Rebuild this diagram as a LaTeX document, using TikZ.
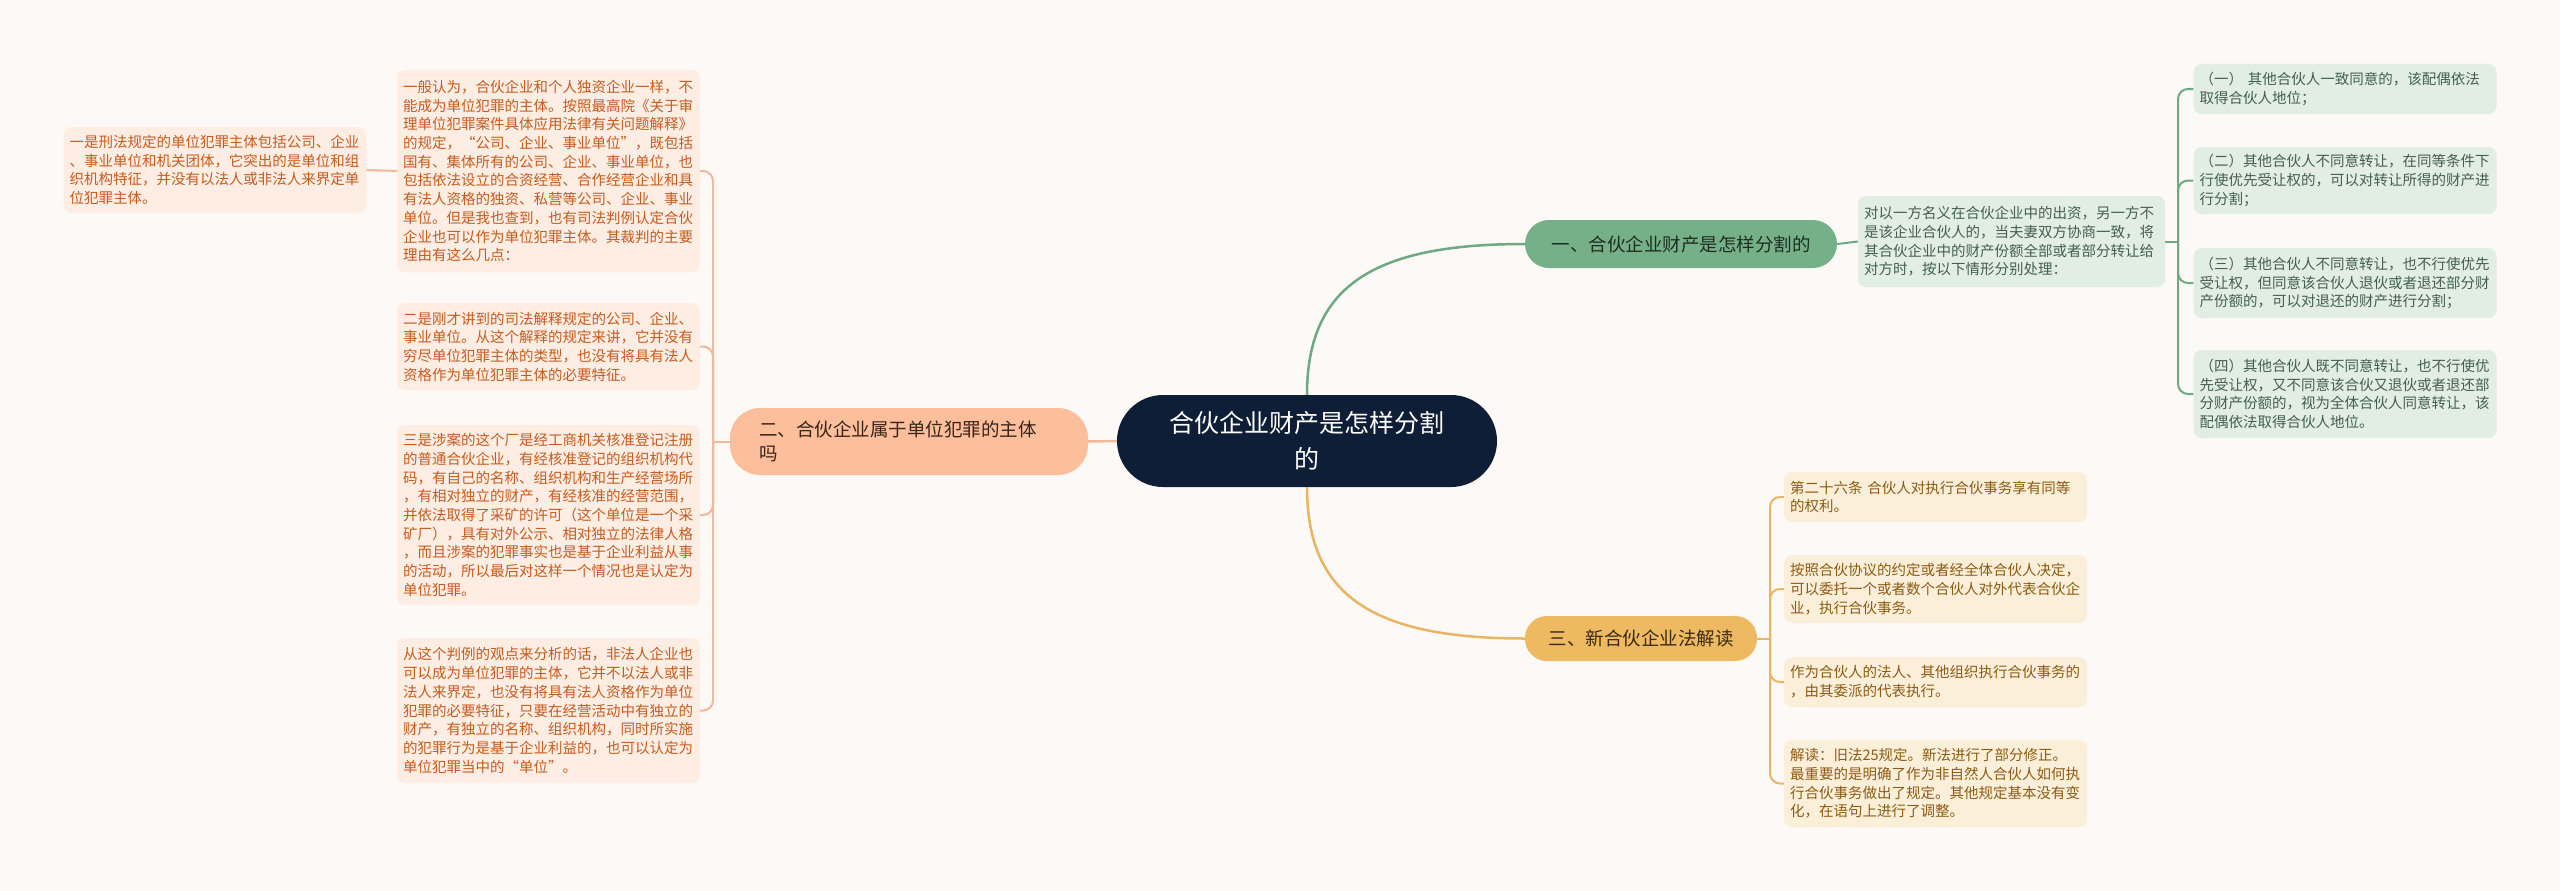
\documentclass[tikz,border=0pt]{standalone}
\usepackage{fontspec}
\setmainfont{Noto Sans CJK SC}
\definecolor{bg}{HTML}{FDF9F7}
\definecolor{navy}{HTML}{0E1E36}
\definecolor{gfill}{HTML}{76B088}
\definecolor{gtext}{HTML}{1E2E22}
\definecolor{glight}{HTML}{E2EEE4}
\definecolor{gltext}{HTML}{44604C}
\definecolor{gline}{HTML}{6FA982}
\definecolor{sfill}{HTML}{FCBE9B}
\definecolor{stext}{HTML}{3A2418}
\definecolor{slight}{HTML}{FDEDE3}
\definecolor{sltext}{HTML}{C65B1E}
\definecolor{sline}{HTML}{F3B899}
\definecolor{yfill}{HTML}{EDBA62}
\definecolor{ytext}{HTML}{3A2A10}
\definecolor{ylight}{HTML}{FCEFDA}
\definecolor{yltext}{HTML}{8C5B12}
\definecolor{yline}{HTML}{E8B663}
\tikzset{
  leafbox/.style={rounded corners=8, align=left, inner xsep=6, inner ysep=0,
    text width=291, font=\fontsize{14.5}{18.7}\selectfont},
  sleaf/.style={leafbox, fill=slight, text=sltext},
  gleaf/.style={leafbox, fill=glight, text=gltext},
  yleaf/.style={leafbox, fill=ylight, text=yltext},
  branchbox/.style={rounded corners=22, inner sep=0, font=\fontsize{18.5}{24}\selectfont},
  gconn/.style={draw=gline, line width=2},
  sconn/.style={draw=sline, line width=2},
  yconn/.style={draw=yline, line width=2},
}
\begin{document}
\begin{tikzpicture}[x=1pt,y=-1pt]
\useasboundingbox (0,0) rectangle (2560,891);
\fill[bg] (0,0) rectangle (2560,891);

% center
\node[fill=navy, text=white, rounded corners=46, minimum width=380, minimum height=92,
  align=center, inner sep=0, font=\fontsize{25}{36}\selectfont] (c) at (1307,441)
  {合伙企业财产是怎样分割\\的};

% branches
\node[branchbox, fill=gfill, text=gtext, minimum width=312, minimum height=48, rounded corners=24] (b1) at (1681,244) {一、合伙企业财产是怎样分割的};
\node[branchbox, fill=sfill, text=stext, minimum width=358, minimum height=67, rounded corners=30,
  text width=300, align=left] (b2) at (909,441.5) {二、合伙企业属于单位犯罪的主体\\吗};
\node[branchbox, fill=yfill, text=ytext, minimum width=232, minimum height=45] (b3) at (1641,638.5) {三、新合伙企业法解读};

% left leaves
\node[sleaf, minimum height=86] (E) at (215,170) {一是刑法规定的单位犯罪主体包括公司、企业\\、事业单位和机关团体，它突出的是单位和组\\织机构特征，并没有以法人或非法人来界定单\\位犯罪主体。};
\node[sleaf, minimum height=202] (A) at (548.5,171) {一般认为，合伙企业和个人独资企业一样，不\\能成为单位犯罪的主体。按照最高院《关于审\\理单位犯罪案件具体应用法律有关问题解释》\\的规定，“公司、企业、事业单位”，既包括\\国有、集体所有的公司、企业、事业单位，也\\包括依法设立的合资经营、合作经营企业和具\\有法人资格的独资、私营等公司、企业、事业\\单位。但是我也查到，也有司法判例认定合伙\\企业也可以作为单位犯罪主体。其裁判的主要\\理由有这么几点：};
\node[sleaf, minimum height=87] (B) at (548.5,346.5) {二是刚才讲到的司法解释规定的公司、企业、\\事业单位。从这个解释的规定来讲，它并没有\\穷尽单位犯罪主体的类型，也没有将具有法人\\资格作为单位犯罪主体的必要特征。};
\node[sleaf, minimum height=180] (C) at (548.5,515) {三是涉案的这个厂是经工商机关核准登记注册\\的普通合伙企业，有经核准登记的组织机构代\\码，有自己的名称、组织机构和生产经营场所\\，有相对独立的财产，有经核准的经营范围，\\并依法取得了采矿的许可（这个单位是一个采\\矿厂），具有对外公示、相对独立的法律人格\\，而且涉案的犯罪事实也是基于企业利益从事\\的活动，所以最后对这样一个情况也是认定为\\单位犯罪。};
\node[sleaf, minimum height=145] (D) at (548.5,710.5) {从这个判例的观点来分析的话，非法人企业也\\可以成为单位犯罪的主体，它并不以法人或非\\法人来界定，也没有将具有法人资格作为单位\\犯罪的必要特征，只要在经营活动中有独立的\\财产，有独立的名称、组织机构，同时所实施\\的犯罪行为是基于企业利益的，也可以认定为\\单位犯罪当中的“单位”。};

% green nodes
\node[gleaf, minimum height=91, text width=295] (g0) at (2011.5,241.5) {对以一方名义在合伙企业中的出资，另一方不\\是该企业合伙人的，当夫妻双方协商一致，将\\其合伙企业中的财产份额全部或者部分转让给\\对方时，按以下情形分别处理：};
\node[gleaf, minimum height=50] (g1) at (2345,89) {（一） 其他合伙人一致同意的，该配偶依法\\取得合伙人地位；};
\node[gleaf, minimum height=67] (g2) at (2345,180.5) {（二）其他合伙人不同意转让，在同等条件下\\行使优先受让权的，可以对转让所得的财产进\\行分割；};
\node[gleaf, minimum height=70] (g3) at (2345,283) {（三）其他合伙人不同意转让，也不行使优先\\受让权，但同意该合伙人退伙或者退还部分财\\产份额的，可以对退还的财产进行分割；};
\node[gleaf, minimum height=88] (g4) at (2345,394) {（四）其他合伙人既不同意转让，也不行使优\\先受让权，又不同意该合伙又退伙或者退还部\\分财产份额的，视为全体合伙人同意转让，该\\配偶依法取得合伙人地位。};

% yellow nodes
\node[yleaf, minimum height=50] (y1) at (1935.5,497) {第二十六条 合伙人对执行合伙事务享有同等\\的权利。};
\node[yleaf, minimum height=68] (y2) at (1935.5,589) {按照合伙协议的约定或者经全体合伙人决定，\\可以委托一个或者数个合伙人对外代表合伙企\\业，执行合伙事务。};
\node[yleaf, minimum height=50] (y3) at (1935.5,682) {作为合伙人的法人、其他组织执行合伙事务的\\，由其委派的代表执行。};
\node[yleaf, minimum height=87] (y4) at (1935.5,783.5) {解读：旧法25规定。新法进行了部分修正。\\最重要的是明确了作为非自然人合伙人如何执\\行合伙事务做出了规定。其他规定基本没有变\\化，在语句上进行了调整。};

% junctions
\coordinate (jl) at (713,441.5);
\coordinate (jg) at (2178,241.5);
\coordinate (jy) at (1770,638.5);

% main connectors
\draw[gconn, line width=2.5] (c.north) .. controls +(0,-110) and +(-150,0) .. (b1.west);
\draw[yconn, line width=2.5] (c.south) .. controls +(0,110) and +(-150,0) .. (b3.west);
\draw[sconn, line width=2.5] (c.west) -- (b2.east);

% left
\draw[sconn] (b2.west) -- (jl);
\foreach \n in {A,B,C,D}{
  \draw[sconn, rounded corners=10] (jl) -- (jl |- \n.east) -- (\n.east);
}
\draw[sconn] (E.east) -- (A.west);

% green
\draw[gconn] (b1.east) -- (g0.west);
\draw[gconn] (g0.east) -- (jg);
\foreach \n in {g1,g2,g3,g4}{
  \draw[gconn, rounded corners=10] (jg) -- (jg |- \n.west) -- (\n.west);
}

% yellow
\draw[yconn] (b3.east) -- (jy);
\foreach \n in {y1,y2,y3,y4}{
  \draw[yconn, rounded corners=10] (jy) -- (jy |- \n.west) -- (\n.west);
}
\end{tikzpicture}
\end{document}
